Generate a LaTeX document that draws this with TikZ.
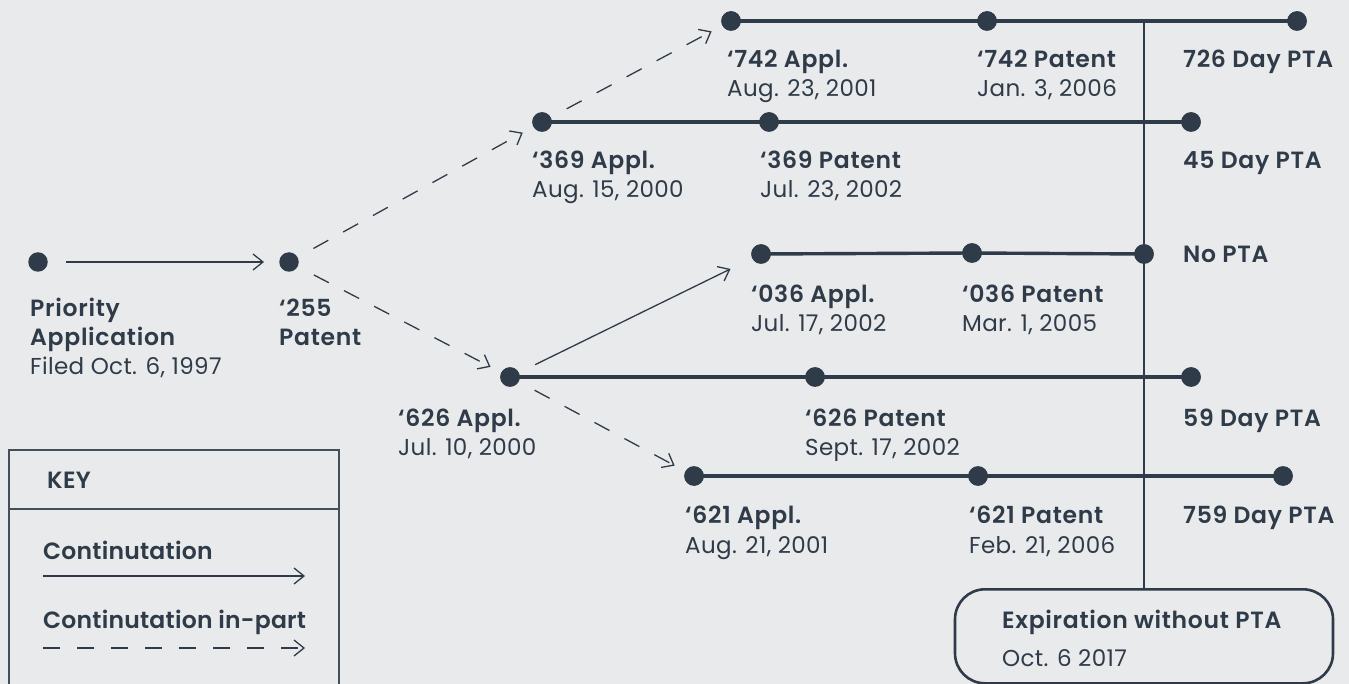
\documentclass[tikz,border=0pt]{standalone}
\usepackage{fontspec}
\setmainfont{Poppins}[BoldFont={Poppins SemiBold}]
\usetikzlibrary{arrows.meta}
\definecolor{ink}{HTML}{2F3B48}
\definecolor{paper}{HTML}{E9EAEC}
\begin{document}
\begin{tikzpicture}[x=1pt,y=-1pt,
  dot/.style={circle,fill=ink,inner sep=0pt,minimum size=19.5pt},
  tl/.style={draw=ink,line width=3.4pt},
  arr/.style={draw=ink,line width=1.3pt,-{Straight Barb[length=10pt,width=16pt]}},
  cont/.style={arr,shorten <=18pt,shorten >=12pt},
  dashpat/.style={dash pattern=on 17pt off 17pt},
  cip/.style={cont,dashpat},
  bl/.style={anchor=base west,inner sep=0pt,text=ink,font=\fontsize{23.5}{28}\selectfont\bfseries\addfontfeatures{LetterSpace=3}},
  kl/.style={anchor=base west,inner sep=0pt,text=ink,font=\fontsize{23.5}{28}\selectfont\bfseries\addfontfeatures{LetterSpace=1}},
  rl/.style={anchor=base west,inner sep=0pt,text=ink,font=\fontsize{23}{28}\selectfont\addfontfeatures{LetterSpace=1.5}},
]
\useasboundingbox (0,0) rectangle (1349,684);
\fill[paper] (0,0) rectangle (1349,684);

% dots
\node[dot] (prio) at (38,262) {};
\node[dot] (p255) at (289,262) {};
\node[dot] (a369) at (542,122) {};
\node[dot] (p369) at (769,122) {};
\node[dot] (e369) at (1191,122) {};
\node[dot] (a742) at (731,21) {};
\node[dot] (p742) at (987,21) {};
\node[dot] (e742) at (1297,21) {};
\node[dot] (a036) at (761,254) {};
\node[dot] (p036) at (972,253) {};
\node[dot] (e036) at (1144,254) {};
\node[dot] (a626) at (510,377) {};
\node[dot] (p626) at (815,377) {};
\node[dot] (e626) at (1191,377) {};
\node[dot] (a621) at (694,476) {};
\node[dot] (p621) at (978,476) {};
\node[dot] (e621) at (1283,476) {};

% expiration box
\node[draw=ink,line width=2.6pt,rounded corners=30pt,minimum width=378pt,minimum height=94pt,inner sep=0pt,anchor=north] (exp) at (1144,588) {};
\coordinate (vtop) at (1144,21);

% timelines
\draw[tl] (a742.center) -- (p742.center) -- (e742.center);
\draw[tl] (a369.center) -- (p369.center) -- (e369.center);
\draw[tl] (a036.center) -- (p036.center) -- (e036.center);
\draw[tl] (a626.center) -- (p626.center) -- (e626.center);
\draw[tl] (a621.center) -- (p621.center) -- (e621.center);
\draw[draw=ink,line width=2.6pt] (vtop) -- (exp.north);
% redraw dots on top
\foreach \n in {a742,p742,e742,a369,p369,e369,a036,p036,e036,a626,p626,e626,a621,p621,e621}
  \fill[ink] (\n.center) circle (9.75pt);

% connectors
\draw[cont,shorten >=15pt] (prio) -- (p255);
\draw[cip] (p255) -- (a369);
\draw[cip] (a369) -- (a742);
\draw[cip] (p255) -- (a626);
\draw[cont,shorten >=24pt] (a626) -- (a036);
\draw[cip] (a626) -- (a621);

% labels
\node[bl] (l742a) at (727,68) {‘742 Appl.};
\node[rl] (d742a) at (727,97) {Aug. 23, 2001};
\node[bl] (l742p) at (977,68) {‘742 Patent};
\node[rl] (d742p) at (977,97) {Jan. 3, 2006};
\node[bl] (t726) at (1183,68) {726 Day PTA};

\node[bl] (l369a) at (532,169) {‘369 Appl.};
\node[rl] (d369a) at (532,198) {Aug. 15, 2000};
\node[bl] (l369p) at (760,169) {‘369 Patent};
\node[rl] (d369p) at (760,198) {Jul. 23, 2002};
\node[bl] (t45) at (1183,169) {45 Day PTA};

\node[bl] (tno) at (1183,263) {No PTA};
\node[bl] (l036a) at (751,303) {‘036 Appl.};
\node[rl] (d036a) at (751,332) {Jul. 17, 2002};
\node[bl] (l036p) at (962,303) {‘036 Patent};
\node[rl] (d036p) at (962,332) {Mar. 1, 2005};

\node[bl] (lpr1) at (30,317) {Priority};
\node[bl] (lpr2) at (30,346) {Application};
\node[rl] (dpr) at (30,374) {Filed Oct. 6, 1997};
\node[bl] (l255a) at (279,317) {‘255};
\node[bl] (l255b) at (279,346) {Patent};

\node[bl] (l626a) at (398,426) {‘626 Appl.};
\node[rl] (d626a) at (398,455) {Jul. 10, 2000};
\node[bl] (l626p) at (805,426) {‘626 Patent};
\node[rl] (d626p) at (805,455) {Sept. 17, 2002};
\node[bl] (t59) at (1183,426) {59 Day PTA};

\node[bl] (l621a) at (685,523) {‘621 Appl.};
\node[rl] (d621a) at (685,553) {Aug. 21, 2001};
\node[bl] (l621p) at (969,523) {‘621 Patent};
\node[rl] (d621p) at (969,553) {Feb. 21, 2006};
\node[bl] (t759) at (1183,523) {759 Day PTA};

\node[bl] (lexp) at (1002,628) {Expiration without PTA};
\node[rl] (dexp) at (1002,666) {Oct. 6 2017};

% key
\draw[draw=ink!90,line width=1.6pt] (9,690) -- (9,450) -- (339,450) -- (339,690);
\draw[draw=ink!90,line width=1.6pt] (9,509) -- (339,509);
\node[kl] (kkey) at (47,488) {KEY};
\node[kl] (kc) at (43,559) {Continutation};
\node[kl] (kcip) at (43,628) {Continutation in-part};
\coordinate (k1s) at (43,576);
\coordinate (k1e) at (305,576);
\coordinate (k2s) at (43,648);
\coordinate (k2e) at (305,648);
\draw[arr] (k1s) -- (k1e);
\draw[arr,dashpat] (k2s) -- (k2e);
\end{tikzpicture}
\end{document}
